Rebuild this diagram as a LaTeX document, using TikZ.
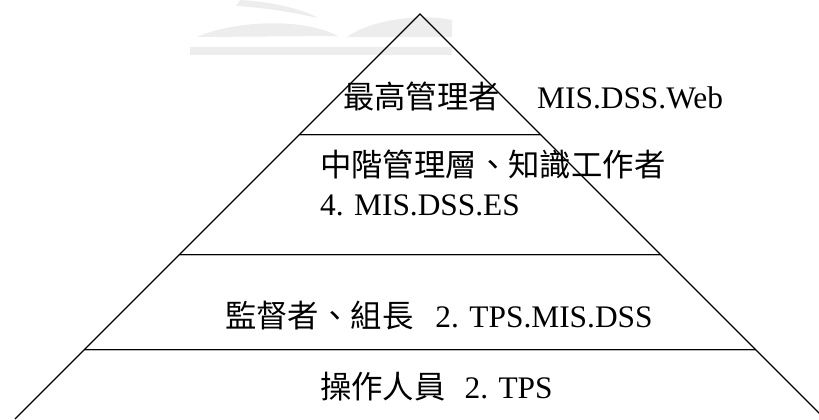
\documentclass[tikz,border=0pt]{standalone}
\usepackage{fontspec}
\setmainfont{Liberation Serif}
\newfontfamily\cjk{Noto Sans CJK TC}
\begin{document}
\begin{tikzpicture}[x=1bp,y=-1bp,
  side/.style={line width=1.1pt,black},
  tier/.style={line width=0.7pt,double=gray!55,double distance=0.55pt,black},
  lbl/.style={inner sep=0pt,anchor=base west,font=\fontsize{31.5}{36}\selectfont},
  wm/.style={fill=black!7,draw=none}]
\useasboundingbox (0,0) rectangle (819,419);
% faint watermark
\fill[wm] (240,0) .. controls (275,2) and (305,10) .. (318,18) .. controls (300,14) and (270,8) .. (236,6) -- cycle;
\fill[wm] (197,37) .. controls (230,22) and (300,16) .. (338,36) -- cycle;
\fill[wm] (347,37) .. controls (370,20) and (420,13) .. (452,20) -- (452,37) -- cycle;
\fill[wm] (190,47) rectangle (452,55);
\begin{scope}
\clip (0,0) rectangle (819,419);
\coordinate (apex) at (420,14);
\coordinate (bl) at (15,419);
\coordinate (br) at (825,419);
\coordinate (l1) at (299,135); \coordinate (r1) at (541,135);
\coordinate (l2) at (179,255); \coordinate (r2) at (661,255);
\coordinate (l3) at (84,350);  \coordinate (r3) at (756,350);
\draw[tier] (l1) -- (r1);
\draw[tier] (l2) -- (r2);
\draw[tier] (l3) -- (r3);
\draw[side] (bl) -- (apex) -- (br);
\end{scope}
\node[lbl] (t1a) at (343,108) {\cjk 最高管理者};
\node[lbl] (t1b) at (537,108) {MIS.DSS.Web};
\node[lbl] (t2a) at (320,176) {\cjk 中階管理層、知識工作者};
\node[lbl] (t2b) at (320,215) {4. MIS.DSS.ES};
\node[lbl] (t3) at (225,327) {{\cjk 監督者、組長}\hspace{0.7em}2. TPS.MIS.DSS};
\node[lbl] (t4) at (320,398) {{\cjk 操作人員}\hspace{0.6em}2. TPS};
\end{tikzpicture}
\end{document}
